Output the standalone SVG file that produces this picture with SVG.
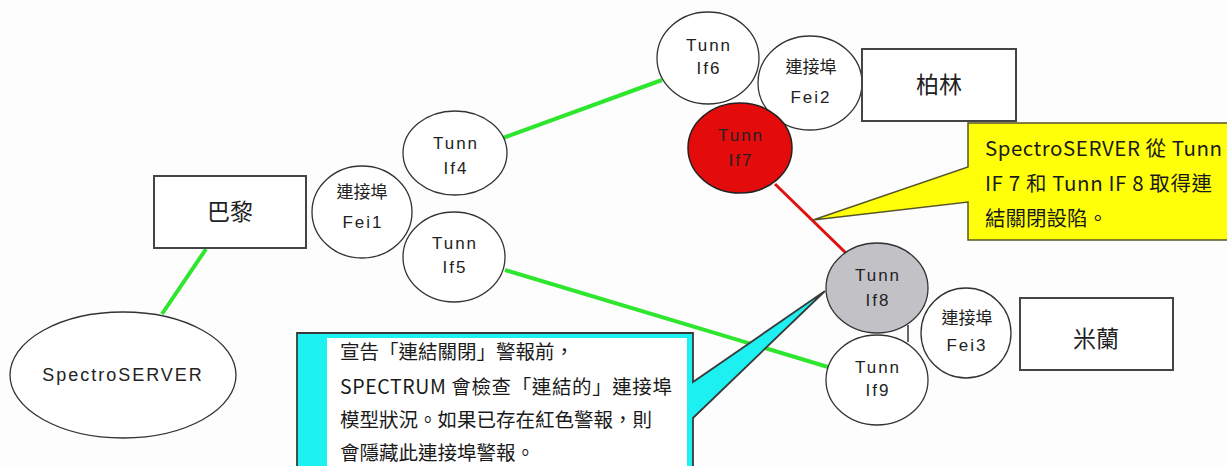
<svg xmlns="http://www.w3.org/2000/svg" width="1227" height="466" viewBox="0 0 1227 466">
<style>
.nd{fill:#ffffff;stroke:#333;stroke-width:1.3}
.bx{fill:#ffffff;stroke:#444;stroke-width:2}
.lb{font-family:"Liberation Sans","Noto Sans CJK TC",sans-serif;font-size:17px;fill:#222;text-anchor:middle;letter-spacing:2px}
.cj{font-family:"Noto Sans CJK TC",sans-serif;font-size:17px;fill:#222;text-anchor:middle}
.big{font-family:"Noto Sans CJK TC",sans-serif;font-size:23px;fill:#222;text-anchor:middle}
.ct{font-family:"Noto Sans CJK TC",sans-serif;font-size:19.5px;fill:#1a1a1a}
.yt{font-family:"Noto Sans CJK TC",sans-serif;font-size:20.5px;fill:#1a1a1a}
.g{stroke:#2ee62e;stroke-width:4;fill:none}
</style>
<rect width="1227" height="466" fill="#fdfdfd"/>
<g id="connectors">
<line class="g" x1="206" y1="249" x2="162" y2="314"/>
<line class="g" x1="503" y1="138" x2="662" y2="80"/>
<line class="g" x1="505" y1="270" x2="828" y2="367"/>
<line x1="775" y1="184" x2="848" y2="255" stroke="#e01010" stroke-width="3"/>
<line x1="908" y1="325" x2="908" y2="342" stroke="#333" stroke-width="1.5"/>
<line x1="862" y1="70" x2="862" y2="96" stroke="#333" stroke-width="1"/>
</g>
<g id="n-spectroserver"><ellipse class="nd" cx="123" cy="375" rx="113" ry="63"/><text class="lb" x="123" y="381" style="font-size:18px">SpectroSERVER</text></g>
<g id="n-paris"><rect class="bx" x="154" y="176" width="152" height="72"/><text class="big" x="230" y="220">巴黎</text></g>
<g id="n-fei1"><ellipse class="nd" cx="362" cy="212" rx="50" ry="46"/><text class="cj" x="362" y="198">連接埠</text><text class="lb" x="363" y="228">Fei1</text></g>
<g id="n-if4"><ellipse class="nd" cx="455" cy="153" rx="52" ry="42"/><text class="lb" x="456" y="149">Tunn</text><text class="lb" x="456" y="174">If4</text></g>
<g id="n-if5"><ellipse class="nd" cx="454" cy="257" rx="51" ry="45"/><text class="lb" x="455" y="249">Tunn</text><text class="lb" x="455" y="273">If5</text></g>
<g id="n-if6"><ellipse class="nd" cx="708" cy="58" rx="51" ry="46"/><text class="lb" x="709" y="51">Tunn</text><text class="lb" x="709" y="74">If6</text></g>
<g id="n-fei2"><ellipse class="nd" cx="810" cy="83" rx="52" ry="47"/><text class="cj" x="811" y="73">連接埠</text><text class="lb" x="811" y="103">Fei2</text></g>
<g id="n-berlin"><rect class="bx" x="862" y="49" width="154" height="72"/><text class="big" x="939" y="93">柏林</text></g>
<g id="n-if7"><ellipse cx="740" cy="148" rx="52" ry="45" fill="#e30b0b" stroke="#222" stroke-width="1.5"/><text class="lb" x="741" y="141">Tunn</text><text class="lb" x="741" y="166">If7</text></g>
<g id="n-if8"><ellipse cx="877" cy="288" rx="51" ry="45" fill="#c2c1c6" stroke="#333" stroke-width="1.3"/><text class="lb" x="878" y="281">Tunn</text><text class="lb" x="878" y="306">If8</text></g>
<g id="n-fei3"><ellipse class="nd" cx="966" cy="333" rx="45" ry="45"/><text class="cj" x="967" y="324">連接埠</text><text class="lb" x="967" y="351">Fei3</text></g>
<g id="n-if9"><ellipse class="nd" cx="877" cy="380" rx="51" ry="45"/><text class="lb" x="878" y="373">Tunn</text><text class="lb" x="878" y="396">If9</text></g>
<g id="n-milan"><rect class="bx" x="1020" y="298" width="153" height="72"/><text class="big" x="1096" y="347">米蘭</text></g>
<g id="callout-yellow">
<path d="M968,123 H1232 V240 H968 V202 L813,220 L968,167 Z" fill="#ffff0a" stroke="#55552a" stroke-width="1.5"/>
<text class="yt" x="985" y="156" textLength="237">SpectroSERVER 從 Tunn</text>
<text class="yt" x="985" y="191" textLength="227">IF 7 和 Tunn IF 8 取得連</text>
<text class="yt" x="985" y="226">結關閉設陷。</text>
</g>
<g id="callout-cyan">
<path d="M297,333 H693 V382 L825,291 L693,418 V472 H297 Z" fill="#1cf0f0" stroke="#3a3a3a" stroke-width="1.8"/>
<rect x="327" y="338" width="360" height="134" fill="#ffffff"/>
<text class="ct" x="340" y="359">宣告「連結關閉」警報前，</text>
<text class="ct" x="340" y="394" textLength="332">SPECTRUM 會檢查「連結的」連接埠</text>
<text class="ct" x="340" y="427">模型狀況。如果已存在紅色警報，則</text>
<text class="ct" x="340" y="460">會隱藏此連接埠警報。</text>
</g>
</svg>
